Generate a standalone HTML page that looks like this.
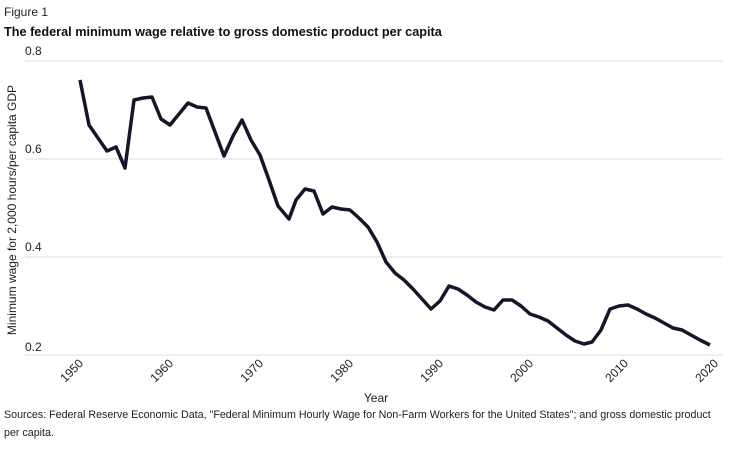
<!DOCTYPE html>
<html><head><meta charset="utf-8"><style>
body{margin:0;background:#fff;width:733px;height:445px;overflow:hidden;font-family:"Liberation Sans",sans-serif;}
</style></head><body>
<svg width="733" height="445" xmlns="http://www.w3.org/2000/svg" font-family="Liberation Sans, sans-serif">
<text x="4" y="16" font-size="12" fill="#222">Figure 1</text>
<text x="4" y="36" font-size="12.7" font-weight="bold" fill="#111">The federal minimum wage relative to gross domestic product per capita</text>
<g stroke="#ddd" stroke-width="1">
<line x1="25" y1="61" x2="723" y2="61"/><line x1="25" y1="159" x2="723" y2="159"/>
<line x1="25" y1="257" x2="723" y2="257"/><line x1="25" y1="355" x2="723" y2="355"/>
</g>
<g font-size="12" fill="#222">
<text x="25" y="55">0.8</text><text x="25" y="153">0.6</text><text x="25" y="251">0.4</text><text x="25" y="351">0.2</text>
</g>
<text transform="translate(16,210) rotate(-90)" text-anchor="middle" font-size="12" fill="#222">Minimum wage for 2,000 hours/per capita GDP</text>
<g font-size="12" fill="#222" text-anchor="end">
<text transform="translate(84,364) rotate(-45)">1950</text>
<text transform="translate(174,364) rotate(-45)">1960</text>
<text transform="translate(264,364) rotate(-45)">1970</text>
<text transform="translate(354,364) rotate(-45)">1980</text>
<text transform="translate(444,364) rotate(-45)">1990</text>
<text transform="translate(534,364) rotate(-45)">2000</text>
<text transform="translate(629,364) rotate(-45)">2010</text>
<text transform="translate(719,364) rotate(-45)">2020</text>
</g>
<text x="376" y="402" text-anchor="middle" font-size="12" fill="#222">Year</text>
<polyline fill="none" stroke="#16152a" stroke-width="3.5" stroke-linejoin="round" points="80,80 89,125 98,138 107,151 116,147 125,168 134,100 143,98 152,97 161,119 170,125 179,114 188,103 197,107 206,108 215,132 224,156 233,136 242,120 251,140 260,155 269,180 278,206 289,219 296,200 305,189 314,191 323,214 332,207 341,209 350,210 359,218 368,227 377,242 386,262 395,273 404,280 413,289 422,299 431,309 440,301 449,286 458,289 467,295 476,302 485,307 494,310 503,300 512,300 521,306 530,314 539,317 548,321 557,328 566,335 575,341 584,344 592,342 601,330 610,309 619,306 628,305 637,309 646,314 655,318 664,323 673,328 682,330 691,335 700,340 710,345"/>
<text x="4" y="418" font-size="10.7" fill="#222">Sources: Federal Reserve Economic Data, "Federal Minimum Hourly Wage for Non-Farm Workers for the United States"; and gross domestic product</text>
<text x="4" y="436" font-size="10.7" fill="#222">per capita.</text>
</svg>
</body></html>
